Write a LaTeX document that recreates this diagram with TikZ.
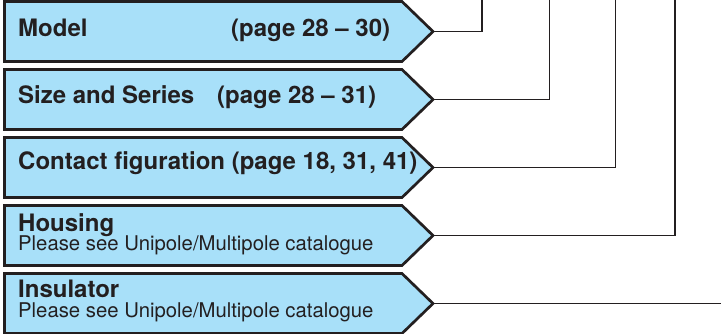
\documentclass[tikz,border=0pt]{standalone}
\usepackage{fontspec}
\setmainfont{TeX Gyre Heros}
\definecolor{boxfill}{HTML}{A8E0F9}
\definecolor{ink}{HTML}{231F20}
\begin{document}
\begin{tikzpicture}[x=1pt,y=-1pt,
  pbox/.style={draw=ink,fill=boxfill,line width=2.7pt,line join=miter},
  conn/.style={draw=ink,line width=1.2pt},
  bigtxt/.style={anchor=base west,inner sep=0pt,text=ink,font=\fontsize{24.0}{28}\selectfont\bfseries},
  smalltxt/.style={anchor=base west,inner sep=0pt,text=ink,font=\fontsize{20.3}{24}\selectfont}]
\useasboundingbox (0,0) rectangle (721,333);
% boxes
\foreach \t/\n in {1.5/1,69.5/2,137.5/3,205.5/4,273.5/5}{
  \path[pbox] (4.5,\t) -- (402,\t) -- (433,\t+30) -- (402,\t+60) -- (4.5,\t+60) -- cycle;
  \coordinate (tip\n) at (433,\t+30);
}
% texts
\node[bigtxt] (model) at (18,36.7) {Model};
\node[bigtxt] (modelp) at (231,36.7) {(page 28 – 30)};
\node[bigtxt] (size) at (18,103.3) {Size and Series};
\node[bigtxt] (sizep) at (217,103.3) {(page 28 – 31)};
\node[bigtxt] (contact) at (18,169.3) {Contact figuration (page 18, 31, 41)};
\node[bigtxt] (housing) at (18,231.7) {Housing};
\node[smalltxt] (housingp) at (18,250.8) {Please see Unipole/Multipole catalogue};
\node[bigtxt] (insul) at (18,297.7) {Insulator};
\node[smalltxt] (insulp) at (18,317.4) {Please see Unipole/Multipole catalogue};
% connector ends
\coordinate (e1) at (482,0);
\coordinate (e2) at (549.3,0);
\coordinate (e3) at (615.7,0);
\coordinate (e4) at (675,0);
\coordinate (e5) at (721,303.5);
\draw[conn] (tip1) -| (e1);
\draw[conn] (tip2) -| (e2);
\draw[conn] (tip3) -| (e3);
\draw[conn] (tip4) -| (e4);
\draw[conn] (tip5) -- (e5);
\end{tikzpicture}
\end{document}
